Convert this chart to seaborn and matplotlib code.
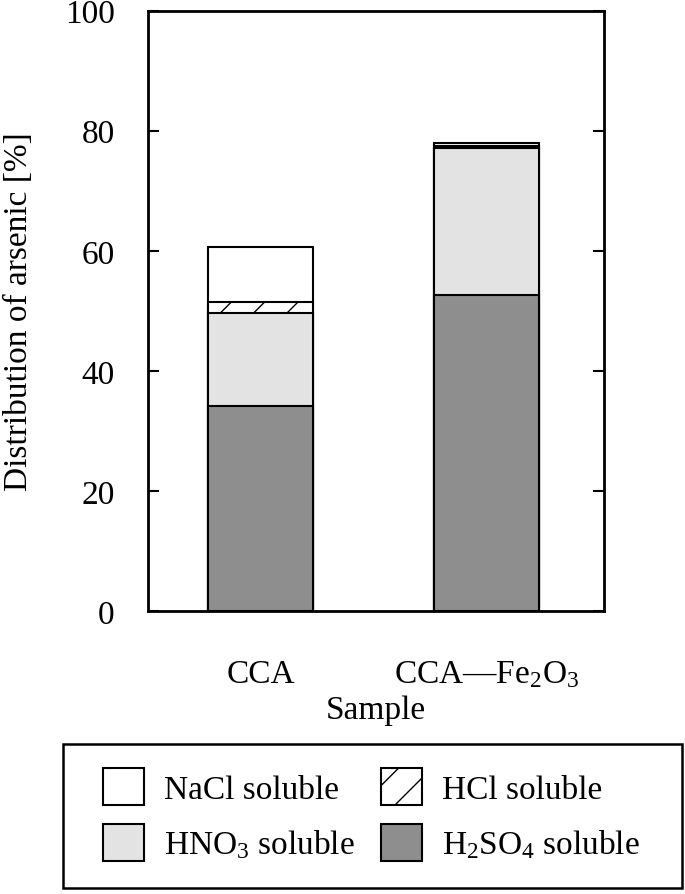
import numpy as np
import pandas as pd
import matplotlib
matplotlib.use("Agg")
import matplotlib.pyplot as plt
import seaborn as sns
from matplotlib.patches import Patch, Rectangle

# data
samples = ["CCA", "CCA—Fe$\\mathregular{_2}$O$\\mathregular{_3}$"]
h2so4 = [34.1, 52.7]
hno3 = [15.5, 24.4]
hcl = [1.8, 0.4]
nacl = [9.2, 0.4]
fractions = ["NaCl soluble", "HCl soluble",
             "HNO$\\mathregular{_3}$ soluble", "H$\\mathregular{_2}$SO$\\mathregular{_4}$ soluble"]

sns.set_style("white")
plt.rcParams["font.family"] = ["Liberation Serif", "DejaVu Serif"]
plt.rcParams["mathtext.fontset"] = "custom"
plt.rcParams["mathtext.rm"] = "Liberation Serif"
plt.rcParams["hatch.linewidth"] = 1.0
for k in ["text.color", "axes.labelcolor", "xtick.color", "ytick.color"]:
    plt.rcParams[k] = "black"

df = pd.DataFrame({"sample": samples, "H2SO4": h2so4, "HNO3": hno3, "HCl": hcl, "NaCl": nacl})
#Cumulative tops, drawn from the highest layer down so they look stacked
df["c1"] = df["H2SO4"]
df["c2"] = df["c1"] + df["HNO3"]
df["c3"] = df["c2"] + df["HCl"]
df["c4"] = df["c3"] + df["NaCl"]

fig = plt.figure(figsize=(6.85, 8.95), dpi=100)
ax = fig.add_axes([0.216, 0.316, 0.666, 0.671])

layers = [("c4", "white", ""), ("c3", "white", "/"), ("c2", "#e3e3e3", ""), ("c1", "#8e8e8e", "")]
for col, fc, hatch in layers:
    sns.barplot(data=df, x="sample", y=col, color=fc, width=0.465, saturation=1,
                edgecolor="black", linewidth=1.5, hatch=hatch, ax=ax)

ax.set_xlim(-0.5, 1.52)
ax.set_ylim(0, 100)
ax.set_yticks([0, 20, 40, 60, 80, 100])
ax.tick_params(axis="y", direction="in", length=8, width=1.5, left=True, right=True,
               labelsize=24, pad=24)
ax.tick_params(axis="x", length=0, labelsize=24, pad=34)
for s in ax.spines.values():
    s.set_linewidth(2)
    s.set_color("black")
ax.set_xlabel("Sample", fontsize=24, labelpad=4)
ax.set_ylabel("Distribution of arsenic [%]", fontsize=24, labelpad=22)

handles = [Patch(facecolor="white", edgecolor="black", linewidth=1.5, label=fractions[0]),
           Patch(facecolor="#e3e3e3", edgecolor="black", linewidth=1.5, label=fractions[2]),
           Patch(facecolor="white", edgecolor="black", linewidth=1.5, hatch="/", label=fractions[1]),
           Patch(facecolor="#8e8e8e", edgecolor="black", linewidth=1.5, label=fractions[3])]
fig.legend(handles=handles, ncol=2, loc="upper left", bbox_to_anchor=(103 / 685, 1 - 769 / 895),
           fontsize=24, frameon=False, handlelength=1.23, handleheight=1.35, handletextpad=0.6,
           columnspacing=0.8, labelspacing=0.55, borderpad=0, borderaxespad=0)
#Legend frame drawn on its own so the padding matches
fig.patches.append(Rectangle((63 / 685, 6 / 895), 619 / 685, 144 / 895, transform=fig.transFigure,
                             fill=False, edgecolor="black", linewidth=1.8))

fig.savefig("out.png", dpi=100)
